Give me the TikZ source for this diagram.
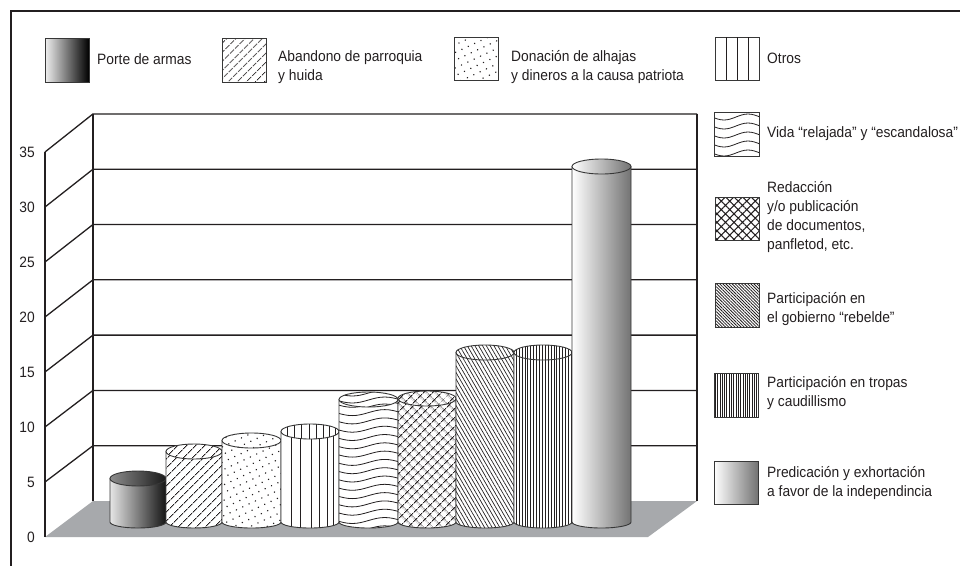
\documentclass[tikz,border=0pt]{standalone}
\usepackage{fontspec}
\setmainfont{Liberation Sans}[FakeStretch=0.92]
\usetikzlibrary{patterns.meta}
\definecolor{floorgray}{RGB}{167,169,172}
\definecolor{ink}{RGB}{35,31,32}
\definecolor{outl}{RGB}{55,55,55}
\newcommand{\cyl}[5]{%
  \path[#4] (#1,#3) -- (#1,522) arc[start angle=180,end angle=0,x radius={(#2-#1)/2},y radius=6] -- (#2,#3) -- cycle;
  \path[#5] ({(#1+#2)/2},#3) ellipse[x radius={(#2-#1)/2},y radius=7.5];
}
\newcommand{\cylside}[3]{\clip (#1,#3) -- (#1,522) arc[start angle=180,end angle=0,x radius={(#2-#1)/2},y radius=6] -- (#2,#3) -- cycle;}
\newcommand{\cyltop}[3]{\clip ({(#1+#2)/2},#3) ellipse[x radius={(#2-#1)/2},y radius=7.5];}
\begin{document}
\begin{tikzpicture}[x=1pt,y=-1pt,
  every node/.style={font=\fontsize{15}{19}\selectfont, text=ink},
  lbl/.style={anchor=west, inner sep=0pt, align=left},
  ticklbl/.style={anchor=east, inner sep=0pt},
  gridline/.style={draw=ink, line width=1.3pt},
  outline/.style={draw=outl, line width=0.9pt},
  patline/.style={draw=ink, line width=0.8pt},
  pat/.style={preaction={fill=white}, pattern color=ink, draw=outl, line width=0.9pt, pattern={#1}},
  darkshade/.style={left color=black!10, right color=black!92, draw=outl, line width=0.9pt},
  darktop/.style={left color=black!45, right color=black!90, draw=outl, line width=0.9pt},
  lightshade/.style={left color=white, right color=black!55, draw=outl, line width=0.9pt},
]
\useasboundingbox (0,0) rectangle (960,566);
\fill[white] (0,0) rectangle (960,566);
% frame
\draw[ink, line width=2.6pt] (960,11) -- (11,11) -- (11,566);
% floor
\fill[floorgray] (45,537) -- (93,501) -- (697,501) -- (648,537) -- cycle;
% grid
\foreach \v in {5,10,...,35} {
  \draw[gridline] (45,{537-11*\v}) -- (93,{501-11.06*\v}) -- (697,{501-11.06*\v});
}
\draw[gridline] (45,152) -- (45,537);
\draw[gridline] (93,113.9) -- (93,501);
\draw[gridline] (697,113.9) -- (697,501);
% tick labels
\foreach \v in {0,5,...,35} {
  \node[ticklbl] (t\v) at (35,{537-11*\v}) {\v};
}
% bars
\cyl{110}{166}{478.5}{darkshade}{darktop}
\cyl{166}{222}{451.5}{pat={Lines[angle=45,distance=6.5pt,line width=0.9pt]}}{pat={Lines[angle=45,distance=6.5pt,line width=0.9pt]}}
\cyl{222}{281}{440.5}{pat={Dots[distance=7pt,radius=0.8pt,angle=25]}}{pat={Dots[distance=7pt,radius=0.8pt,angle=25]}}
% bar 4 vertical lines
\begin{scope}
  \cylside{281}{339}{431.5}
  \fill[white] (275,420) rectangle (345,535);
  \foreach \xx in {291,300,311,319,327,333} \draw[patline] (\xx,420) -- (\xx,535);
\end{scope}
\cyl{281}{339}{431.5}{outline}{preaction={fill=white}}
\begin{scope}
  \cyltop{281}{339}{431.5}
  \foreach \xx in {287,294,301,309,316,323,329,335} \draw[patline] (\xx,420) -- (\xx,445);
\end{scope}
\path[outline] (310,431.5) ellipse[x radius=29,y radius=7.5];
% bar 5 waves
\begin{scope}
  \cylside{339}{398}{399.5}
  \fill[white] (330,390) rectangle (405,535);
  \foreach \k in {0,...,16} \draw[patline] (336,{396+\k*8.3}) sin ++(16.25,3) cos ++(16.25,-3) sin ++(16.25,-3) cos ++(16.25,3);
\end{scope}
\cyl{339}{398}{399.5}{outline}{preaction={fill=white}}
\begin{scope}
  \cyltop{339}{398}{399.5}
  \foreach \k in {0,1,2} \draw[patline] (336,{393+\k*7}) sin ++(16.25,3) cos ++(16.25,-3) sin ++(16.25,-3) cos ++(16.25,3);
\end{scope}
\path[outline] (368.5,399.5) ellipse[x radius=29.5,y radius=7.5];
\cyl{398}{456}{398.5}{pat={Hatch[angle=45,distance=6.5pt,line width=1pt]}}{pat={Hatch[angle=45,distance=6.5pt,line width=1pt]}}
\cyl{456}{514}{352.5}{pat={Lines[angle=-60,distance=3.3pt,line width=0.7pt]}}{pat={Lines[angle=-60,distance=3.3pt,line width=0.7pt]}}
\cyl{514}{572}{352.5}{pat={Lines[angle=90,distance=2.9pt,line width=0.7pt]}}{pat={Lines[angle=90,distance=2.9pt,line width=0.7pt]}}
\cyl{572}{631}{166.5}{lightshade}{lightshade}
% legend boxes
\path[darkshade, left color=black!6, right color=black] (45,38) rectangle (89,82);
\path[pat={Lines[angle=45,distance=6.5pt,line width=0.9pt]}] (222,38) rectangle (266,82);
\path[pat={Dots[distance=7pt,radius=0.8pt,angle=25]}] (454,37) rectangle (498,80);
\draw[outline] (715,37) rectangle (759,80);
\foreach \xx in {726,737,748} \draw[patline] (\xx,37) -- (\xx,80);
\begin{scope}
  \clip (714,112) rectangle (759,156);
  \foreach \k in {0,...,4} \draw[patline] (712,{117+\k*9}) sin ++(12,3) cos ++(12,-3) sin ++(12,-3) cos ++(12,3);
\end{scope}
\draw[outline] (714,112) rectangle (759,156);
\path[pat={Hatch[angle=45,distance=6pt,line width=1pt]}] (715,197) rectangle (759,240);
\path[pat={Lines[angle=-45,distance=2.2pt,line width=0.8pt]}] (715,283) rectangle (759,327);
\path[pat={Lines[angle=90,distance=2.3pt,line width=0.7pt]}] (714,373) rectangle (758,417);
\path[lightshade] (714,461) rectangle (758,504);
% legend texts
\node[lbl] (l1) at (97,59) {Porte de armas};
\node[lbl] (l2) at (278,67) {Abandono de parroquia\\y huida};
\node[lbl] (l3) at (511,67) {Donación de alhajas\\y dineros a la causa patriota};
\node[lbl] (l4) at (767,58) {Otros};
\node[lbl] (l5) at (767,134) {Vida “relajada” y “escandalosa”};
\node[lbl] (l6) at (767,217) {Redacción\\y/o publicación\\de documentos,\\panfletod, etc.};
\node[lbl] (l7) at (767,309) {Participación en\\el gobierno “rebelde”};
\node[lbl] (l8) at (767,393) {Participación en tropas\\y caudillismo};
\node[lbl] (l9) at (767,483) {Predicación y exhortación\\a favor de la independincia};
\end{tikzpicture}
\end{document}
